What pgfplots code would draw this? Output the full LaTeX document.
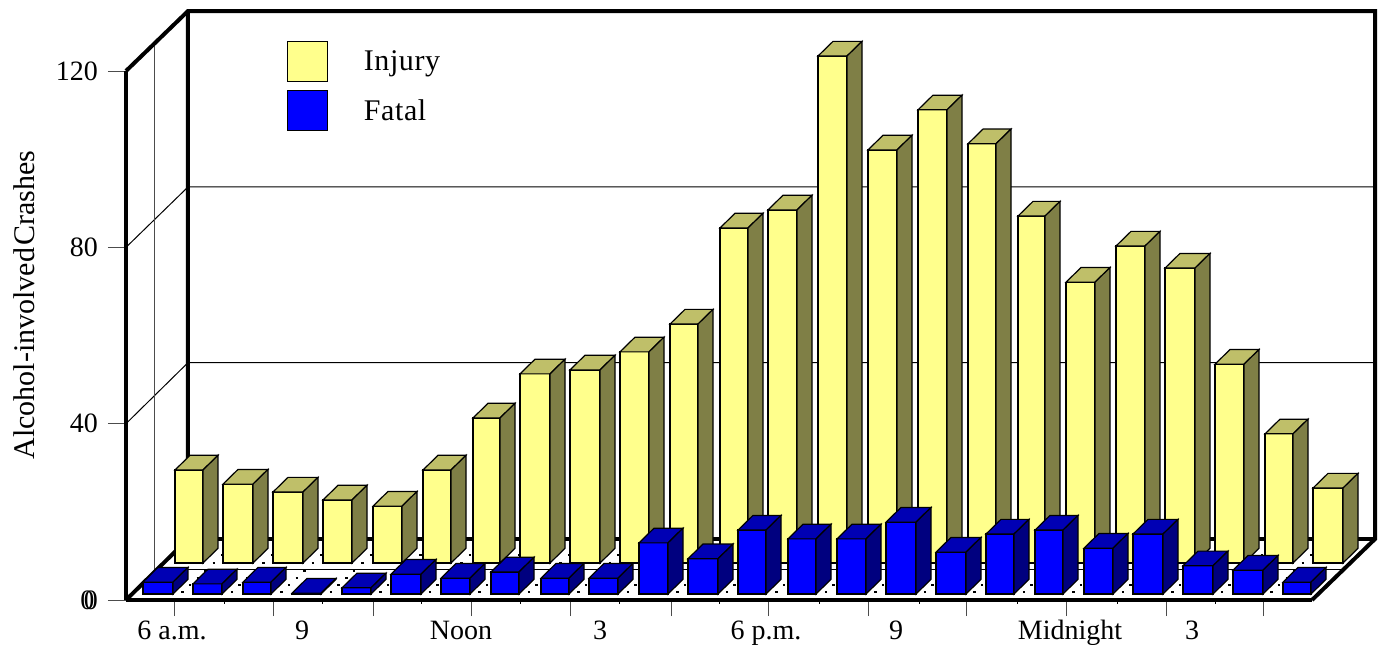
\documentclass[border=0pt]{standalone}
\usepackage{pgfplots}
\usepackage{pgfplotstable}
\usepackage{fontspec}
\setmainfont{Liberation Serif}
\pgfplotsset{compat=1.18}
\definecolor{yfront}{HTML}{FFFF8C}
\definecolor{ytop}{HTML}{BFBF69}
\definecolor{yside}{HTML}{7F7F46}
\definecolor{bfront}{HTML}{0000FF}
\definecolor{btop}{HTML}{0000B4}
\definecolor{bside}{HTML}{00007F}
\pgfplotstableread{
xl xr v
175 203 21.1
223 253 17.9
273 303 16.1
323 352 14.3
373 402 12.9
423 451 21.1
473 500 32.9
520 550 42.9
570 600 43.8
620 649 47.9
670 698 54.2
720 748 76.0
768 797 80.1
818 847 115.0
868 897 93.7
918 947 102.8
968 996 95.1
1018 1045 78.7
1066 1095 63.7
1116 1145 71.9
1165 1195 66.9
1215 1244 45.1
1265 1293 29.3
1313 1343 17.0
}\injurytable
\pgfplotstableread{
xl xr v
143 173 2.7
193 222 2.3
243 271 2.7
292 321 0.2
342 371 1.4
391 421 4.5
441 470 3.6
491 519 5.0
541 569 3.6
589 618 3.6
639 668 11.6
688 718 8.0
738 766 14.5
788 816 12.5
837 866 12.5
886 916 16.3
936 966 9.5
986 1014 13.6
1035 1063 14.5
1084 1113 10.4
1133 1163 13.6
1183 1213 6.4
1233 1263 5.4
1283 1311 2.7
}\fataltable
\newcommand\drawbars[5]{%
  \pgfplotsinvokeforeach{0,...,23}{%
    \pgfplotstablegetelem{##1}{xl}\of{#1}\let\BXl\pgfplotsretval
    \pgfplotstablegetelem{##1}{xr}\of{#1}\let\BXr\pgfplotsretval
    \pgfplotstablegetelem{##1}{v}\of{#1}\let\BV\pgfplotsretval
    \pgfmathsetmacro\BB{#2}%
    \pgfmathsetmacro\BT{#2+\BV}%
    \pgfmathsetmacro\BXld{\BXl+15}%
    \pgfmathsetmacro\BXrd{\BXr+15}%
    \pgfmathsetmacro\BBd{\BB+3.33}%
    \pgfmathsetmacro\BTd{\BT+3.33}%
    \edef\temp{\noexpand\addplot[draw=black,line width=1.2pt,fill=#3] coordinates {(\BXl,\BB)(\BXr,\BB)(\BXr,\BT)(\BXl,\BT)} --cycle;
      \noexpand\addplot[draw=black,line width=1.2pt,fill=#4] coordinates {(\BXl,\BT)(\BXr,\BT)(\BXrd,\BTd)(\BXld,\BTd)} --cycle;
      \noexpand\addplot[draw=black,line width=1.2pt,fill=#5] coordinates {(\BXr,\BB)(\BXrd,\BBd)(\BXrd,\BTd)(\BXr,\BT)} --cycle;}%
    \temp
  }%
}
\gdef\dotlist{}
\foreach \i in {0,...,22}{\foreach \k in {8,15,22,29,37,45}{%
  \pgfmathsetmacro\Xa{174+49.5*\i+1.08*\k-1.25}%
  \pgfmathsetmacro\Xb{174+49.5*\i+1.08*\k+1.25}%
  \pgfmathsetmacro\Y{\k/4.408}%
  \xdef\dotlist{\dotlist(\Xa,\Y)(\Xb,\Y)(nan,nan)}}}
\newcommand\bigfont{\fontsize{30}{34}\selectfont\addfontfeatures{LetterSpace=2}}
\begin{document}%
\begin{tikzpicture}
\begin{axis}[
  at={(0pt,0pt)},anchor=south west,
  scale only axis,width=1186pt,height=529pt,
  xmin=126,xmax=1312,ymin=0,ymax=120,
  clip=false,
  unbounded coords=jump,
  axis x line*=bottom,axis y line*=left,
  axis line style={line width=3.5pt,-},
  tick align=outside,
  font=\fontsize{28}{32}\selectfont,
  /pgf/number format/assume math mode=true,
  ytick={0,40,80,120},
  xtick={174,273,373,471,570,671,768,868,966,1066,1166,1263},
  xticklabels={},
  minor xtick={225,322,421,520,619,719,819,919,1017,1117,1215},
  major tick length=16pt,minor tick length=4pt,
  tick style={line width=0.9pt,black!70},
  minor tick style={line width=1pt,black},
  y tick style={/pgfplots/major tick length=18pt},
  yticklabel style={inner xsep=0pt,xshift=-12pt},
  extra x ticks={172,302,461,600,766,896,1070,1192},
  extra x tick labels={6 a.m.,9,Noon,3,6 p.m.,9,Midnight,3},
  extra x tick style={major tick length=0pt,xticklabel style={inner sep=0pt,anchor=base,yshift=-39pt}},
  ylabel={\fontsize{30}{34}\selectfont Alcohol-involved\hspace{2pt}Crashes},
  ylabel style={at={(axis description cs:-0.086,0.5575)},anchor=center,rotate=0},
  legend style={at={(axis cs:287,126.8)},anchor=north west,draw=none,fill=none,
    inner sep=0pt,row sep=8pt,font=\bigfont,
    /tikz/every even column/.append style={column sep=0pt},
    nodes={inner sep=0pt,anchor=west}},
  legend cell align=left,
]
\addlegendimage{legend image code/.code={\draw[black,line width=1pt,fill=yfront] (0pt,-20pt) rectangle (40pt,20pt);\path (76pt,0pt);}}
\addlegendentry{Injury}
\addlegendimage{legend image code/.code={\draw[black,line width=1pt,fill=bfront] (0pt,-20pt) rectangle (40pt,20pt);\path (76pt,0pt);}}
\addlegendentry{Fatal}
% walls
\addplot[black,line width=1pt] coordinates {(126,40)(188,53.84)(1375,53.84)};
\addplot[black,line width=1pt] coordinates {(126,80)(188,93.69)(1375,93.69)};
\addplot[black!70,line width=1pt] coordinates {(155,6.8)(155,126.4)};
\addplot[black,line width=1pt] coordinates {(157,7)(1343,7)};
\addplot[black,line width=4pt] coordinates {(126,120)(188,133.6)(1375,133.6)(1375,13.84)(1312,0)};
\addplot[black,line width=4pt] coordinates {(188,133.6)(188,13.84)(126,0)};
\addplot[black,line width=4pt] coordinates {(188,13.84)(1375,13.84)};
\edef\temp{\noexpand\addplot[black,line width=2.5pt] coordinates {\dotlist};}\temp
\drawbars{\injurytable}{8.39}{yfront}{ytop}{yside}
\drawbars{\fataltable}{1.36}{bfront}{btop}{bside}
\node[anchor=east,inner sep=0pt] at (axis cs:94.5,0) {0};
\end{axis}
\pgfresetboundingbox
\path[use as bounding box] (-126pt,-45pt) rectangle (1261pt,600pt);
\end{tikzpicture}%
\end{document}
